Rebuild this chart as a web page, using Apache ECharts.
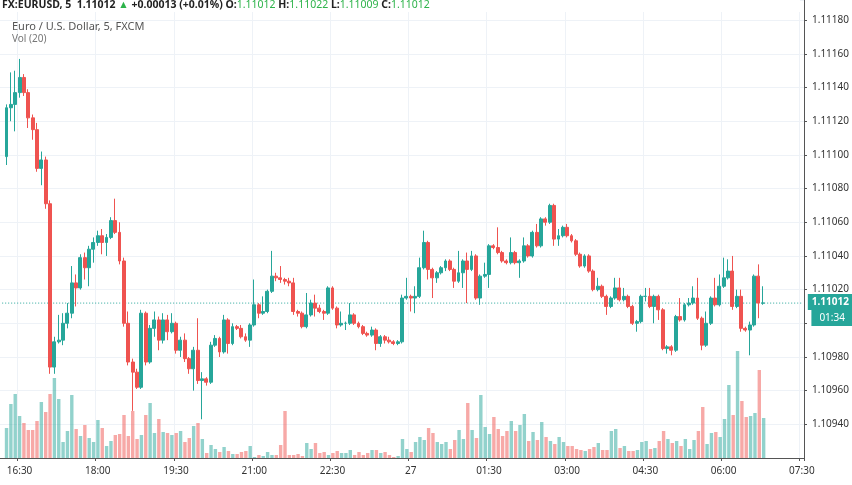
<!DOCTYPE html>
<html><head><meta charset="utf-8">
<script src="https://cdn.jsdelivr.net/npm/echarts@6/dist/echarts.min.js"></script>
<style>html,body{margin:0;padding:0;background:#fff}#c{width:852px;height:485px}</style>
</head><body><div id="c"></div>
<script>
// prices in points (1e-5) above base
const base = 1.10900;
const lastPrice = 1.11012;
const opens = [199,228,230,237,246,237,222,215,192,197,171,74,89,90,100,106,124,121,139,133,144,148,152,148,151,161,154,137,100,77,71,62,106,77,97,102,90,102,95,100,84,90,79,73,84,66,67,65,87,91,83,102,88,98,97,92,90,99,111,106,107,119,128,127,126,125,124,107,106,98,105,112,109,107,106,121,109,99,100,100,105,100,98,94,93,96,88,92,90,89,88,89,115,116,115,116,133,148,132,127,130,133,137,132,125,130,137,132,140,115,128,129,146,145,142,137,136,142,136,137,146,140,154,146,162,160,170,150,152,157,152,149,141,134,140,131,120,122,116,110,115,121,114,116,110,100,101,116,116,110,116,108,85,86,84,104,102,111,112,115,103,87,100,115,111,122,127,131,110,116,97,96,99,128,112];
const closes = [228,230,237,246,237,222,215,192,197,171,74,89,90,100,106,124,121,139,133,144,148,152,148,151,161,154,137,100,77,71,62,106,77,97,102,90,102,95,100,84,90,79,73,84,66,67,65,87,91,83,102,88,98,97,92,90,99,111,106,107,119,128,127,126,125,124,107,106,98,105,112,109,107,106,121,109,99,100,100,105,100,98,94,93,96,88,92,90,89,88,89,115,116,115,116,133,148,132,127,130,133,137,132,125,130,137,132,140,115,128,129,146,145,142,137,136,142,136,137,146,140,154,146,162,160,170,150,152,157,152,149,141,134,140,131,120,122,116,110,115,121,114,116,110,100,101,116,116,110,116,108,85,86,84,104,102,111,112,115,103,87,100,115,111,122,127,131,110,116,97,96,99,128,112,112];
const highs = [230,249,250,257,248,239,224,219,202,199,173,92,105,106,112,134,129,141,142,146,151,155,156,153,163,174,160,139,107,79,73,108,107,99,107,104,106,105,106,101,92,94,80,86,103,71,68,89,93,92,105,103,100,99,99,94,100,126,112,116,120,143,130,134,127,127,127,108,107,118,114,117,111,108,122,122,110,107,101,112,106,101,99,95,98,97,93,93,92,90,90,117,127,117,122,139,155,149,133,131,134,138,138,133,143,138,142,143,141,129,136,147,147,157,143,138,151,143,138,151,147,155,159,163,163,171,171,156,158,159,153,150,142,141,141,132,127,123,117,116,127,127,121,117,111,102,117,121,121,117,117,109,87,87,105,115,112,115,122,127,104,107,116,127,129,139,138,140,120,120,98,101,129,135,122];
const lows = [194,220,214,234,235,216,209,190,182,168,70,70,88,87,97,103,110,120,126,122,136,146,141,140,150,153,135,98,75,48,61,61,75,76,92,84,88,90,94,82,80,77,70,60,64,43,63,64,86,80,82,82,87,96,91,89,86,98,103,105,106,118,125,124,123,122,105,104,97,97,104,104,106,102,105,108,97,98,96,99,99,97,93,92,92,84,86,88,88,87,87,88,114,107,106,115,132,126,115,124,129,131,131,121,124,121,112,131,114,111,127,121,144,141,136,135,135,135,127,136,139,139,145,145,158,159,146,146,151,151,148,140,133,133,130,119,119,115,105,109,114,113,113,109,99,95,100,113,109,100,102,84,82,81,83,101,101,110,111,102,84,86,99,110,110,121,126,108,109,95,95,81,98,103,111];
const volumes = [30,54,64,42,35,28,28,37,56,46,64,80,59,16,27,63,29,22,33,20,16,38,30,12,17,23,24,43,22,47,19,23,43,55,25,39,26,25,23,25,27,16,20,32,35,19,5,13,9,6,11,7,4,4,6,7,12,1,3,2,6,3,3,13,47,3,3,4,2,15,9,15,5,6,3,5,7,5,5,8,3,6,3,5,8,8,5,6,3,1,2,19,9,6,16,21,18,30,25,16,14,16,9,18,28,19,55,28,20,63,31,24,41,29,22,27,37,27,33,44,17,26,18,36,21,17,14,21,16,12,12,9,8,7,9,11,15,8,8,27,29,10,12,7,7,8,16,17,9,10,17,27,19,15,17,12,19,9,18,27,51,14,25,26,21,39,73,43,107,57,41,42,45,88,40];
const startMinutes = 16*60 + 10; // first (empty) slot 16:10, first candle 16:15
const slotCount = 185;
const tickLabels = ["16:30","18:00","19:30","21:00","22:30","00:00","01:30","03:00","04:30","06:00","07:30"];
const dayLabel = {"00:00":"27"};

const UP = '#26a69a', DOWN = '#ef5350';
const cats = [];
for (let i = 0; i < slotCount; i++) {
  const m = (startMinutes + i*5) % 1440;
  cats.push(String(Math.floor(m/60)).padStart(2,'0') + ':' + String(m%60).padStart(2,'0'));
}
const candle = [], vol = [];
for (let i = 0; i < slotCount; i++) {
  const k = i - 1;
  if (k >= 0 && k < opens.length) {
    const o = +(base + opens[k]/1e5).toFixed(5), c = +(base + closes[k]/1e5).toFixed(5);
    candle.push([o, c, +(base + lows[k]/1e5).toFixed(5), +(base + highs[k]/1e5).toFixed(5)]);
    vol.push({value: volumes[k], itemStyle: {color: closes[k] >= opens[k] ? 'rgba(38,166,154,0.5)' : 'rgba(239,83,80,0.5)'}});
  } else { candle.push('-'); vol.push('-'); }
}
const priceLine = cats.map(() => lastPrice);
const showTick = (idx, val) => tickLabels.includes(val);
const chart = echarts.init(document.getElementById('c'), null, {renderer: 'canvas'});
chart.setOption({
  animation: false,
  backgroundColor: '#fff',
  textStyle: {fontFamily: 'Noto Sans'},
  grid: [
    {left: 0, right: 47, top: 0, bottom: 27},
    {left: 0, right: 47, top: 0, bottom: 27}
  ],
  xAxis: [
    {type: 'category', data: cats, gridIndex: 0, boundaryGap: true,
     axisLine: {lineStyle: {color: '#555'}}, axisTick: {show: true, interval: showTick, length: 3, lineStyle: {color: '#555'}},
     axisLabel: {interval: showTick, color: '#333', fontSize: 10, margin: 8,
       formatter: v => dayLabel[v] || v},
     splitLine: {show: true, interval: showTick, lineStyle: {color: '#eef2f7'}}},
    {type: 'category', data: cats, gridIndex: 1, boundaryGap: true, show: false}
  ],
  yAxis: [
    {type: 'value', gridIndex: 0, position: 'right', min: 1.1092, max: 1.11192, interval: 0.0002,
     axisLine: {show: true, lineStyle: {color: '#555'}}, axisTick: {show: true, length: 3},
     axisLabel: {color: '#333', fontSize: 10, margin: 8, showMinLabel: false, showMaxLabel: false, formatter: v => v.toFixed(5)},
     splitLine: {lineStyle: {color: '#eef2f7'}}},
    {type: 'value', gridIndex: 1, min: 0, max: 458, show: false, splitLine: {show: false}}
  ],
  series: [
    {type: 'bar', xAxisIndex: 1, yAxisIndex: 1, data: vol, barWidth: 3.4, z: 1},
    {type: 'line', data: priceLine, xAxisIndex: 0, yAxisIndex: 0, z: 2, symbol: 'none', silent: true,
     lineStyle: {color: '#26a69a', type: [1, 2], width: 1},
     endLabel: {show: true, distance: 6, formatter: '{a|1.11012}\n{b|01:34}', offset: [0, 7],
       rich: {a: {backgroundColor: '#26a69a', color: '#fff', fontSize: 10, padding: [3, 4], fontWeight: 'bold'},
              b: {backgroundColor: '#26a69a', color: '#fff', fontSize: 10, padding: [3, 8], align: 'right'}}}},
    {type: 'candlestick', data: candle, barWidth: 3.4, z: 3,
     itemStyle: {color: UP, color0: DOWN, borderColor: UP, borderColor0: DOWN, borderWidth: 1}}
  ],
  graphic: [
    {type: 'rect', left: 0, top: 0, shape: {width: 800, height: 12}, style: {fill: '#fff'}, z: 10},
    {type: 'text', left: 2, top: 0, z: 11, style: {
      text: '{k|FX:EURUSD, 5  1.11012 }{g|▲}{k| +0.00013 (+0.01%) O:}{g|1.11012}{k| H:}{g|1.11022}{k| L:}{g|1.11009}{k| C:}{g|1.11012}',
      rich: {k: {fontSize: 10.5, fontWeight: 'bold', fill: '#222', fontFamily: 'Noto Sans'},
             g: {fontSize: 10.5, fill: '#2db34a', fontFamily: 'Noto Sans'}}}},
    {type: 'text', left: 12, top: 21, z: 11, style: {text: 'Euro / U.S. Dollar, 5, FXCM', fontSize: 11, fill: '#555', fontFamily: 'Noto Sans'}},
    {type: 'text', left: 12, top: 34, z: 11, style: {text: 'Vol (20)', fontSize: 10, fill: '#777', fontFamily: 'Noto Sans'}}
  ]
});
</script></body></html>
